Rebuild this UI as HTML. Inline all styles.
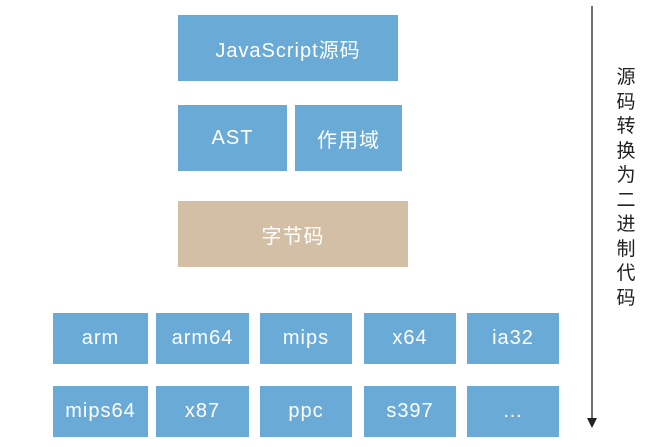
<!DOCTYPE html>
<html><head><meta charset="utf-8"><style>
body{margin:0;width:658px;height:447px;background:#fff;position:relative;overflow:hidden;font-family:"Liberation Sans","Noto Sans CJK SC",sans-serif}
.b{position:absolute;background:#6aaad6;color:#fff;display:flex;align-items:center;justify-content:center;font-size:20px;letter-spacing:1px}
.t{background:#d3bfa5}
</style></head><body>
<div class="b" style="left:178px;top:15px;width:220px;height:66px">JavaScript源码</div>
<div class="b" style="left:178px;top:105px;width:109px;height:66px">AST</div>
<div class="b" style="left:295px;top:105px;width:107px;height:66px">作用域</div>
<div class="b t" style="left:178px;top:201px;width:230px;height:66px">字节码</div>
<div class="b" style="left:53px;top:313px;width:95px;height:51px">arm</div>
<div class="b" style="left:156px;top:313px;width:93px;height:51px">arm64</div>
<div class="b" style="left:260px;top:313px;width:92px;height:51px">mips</div>
<div class="b" style="left:364px;top:313px;width:92px;height:51px">x64</div>
<div class="b" style="left:467px;top:313px;width:92px;height:51px">ia32</div>
<div class="b" style="left:53px;top:386px;width:95px;height:51px">mips64</div>
<div class="b" style="left:156px;top:386px;width:93px;height:51px">x87</div>
<div class="b" style="left:260px;top:386px;width:92px;height:51px">ppc</div>
<div class="b" style="left:364px;top:386px;width:92px;height:51px">s397</div>
<div class="b" style="left:467px;top:386px;width:92px;height:51px">…</div>
<svg style="position:absolute;left:0;top:0" width="658" height="447">
<line x1="592" y1="6" x2="592" y2="420" stroke="#222" stroke-width="1.3"/>
<polygon points="587,418 597,418 592,428" fill="#222"/>
</svg>
<div style="position:absolute;left:614px;top:66px;width:24px;font-size:19px;line-height:24.5px;color:#222;text-align:center">源<br>码<br>转<br>换<br>为<br>二<br>进<br>制<br>代<br>码</div>
</body></html>
